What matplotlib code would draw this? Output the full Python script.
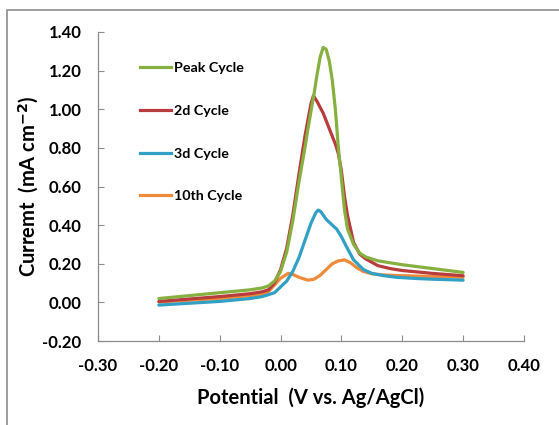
import numpy as np
import matplotlib
matplotlib.use("Agg")
import matplotlib.pyplot as plt
from matplotlib.patches import Rectangle
from matplotlib.lines import Line2D

plt.rcParams['font.family'] = ['Lato', 'DejaVu Sans']

# Peak Cycle
x_peak = [-0.20, -0.15, -0.10, -0.05, -0.03, -0.02, -0.01, 0.00, 0.01, 0.02, 0.03, 0.04,
          0.045, 0.05, 0.055, 0.06, 0.065, 0.07, 0.075, 0.08, 0.085, 0.09, 0.095, 0.10,
          0.105, 0.11, 0.12, 0.13, 0.14, 0.16, 0.18, 0.20, 0.25, 0.30]
y_peak = [0.02, 0.035, 0.05, 0.065, 0.075, 0.085, 0.11, 0.16, 0.26, 0.42, 0.62, 0.80,
          0.90, 0.99, 1.08, 1.18, 1.27, 1.32, 1.31, 1.25, 1.15, 1.00, 0.80, 0.64,
          0.48, 0.38, 0.30, 0.255, 0.235, 0.215, 0.205, 0.195, 0.175, 0.155]

# 2d Cycle
x_2d = [-0.20, -0.10, -0.05, -0.03, -0.02, -0.01, 0.00, 0.01, 0.02, 0.03, 0.04, 0.05,
        0.054, 0.06, 0.07, 0.08, 0.09, 0.095, 0.10, 0.105, 0.11, 0.115, 0.12, 0.13,
        0.14, 0.16, 0.18, 0.20, 0.25, 0.30]
y_2d = [0.005, 0.03, 0.045, 0.055, 0.065, 0.10, 0.17, 0.28, 0.45, 0.66, 0.86, 1.03,
        1.07, 1.04, 0.98, 0.90, 0.82, 0.77, 0.68, 0.55, 0.45, 0.38, 0.31, 0.25,
        0.225, 0.19, 0.175, 0.165, 0.15, 0.138]

# 3d Cycle
x_3d = [-0.20, -0.10, -0.05, -0.03, -0.01, 0.00, 0.01, 0.02, 0.03, 0.04, 0.05, 0.058,
        0.062, 0.066, 0.075, 0.085, 0.092, 0.10, 0.108, 0.12, 0.136, 0.15, 0.17, 0.19,
        0.22, 0.25, 0.30]
y_3d = [-0.014, 0.005, 0.02, 0.03, 0.05, 0.08, 0.11, 0.16, 0.23, 0.32, 0.41, 0.465,
        0.478, 0.47, 0.43, 0.40, 0.38, 0.34, 0.29, 0.22, 0.17, 0.15, 0.138, 0.13,
        0.124, 0.12, 0.115]

# 10th Cycle
x_10 = [-0.20, -0.10, -0.05, -0.03, -0.02, -0.01, 0.00, 0.0125, 0.02, 0.03, 0.045, 0.055,
        0.065, 0.075, 0.085, 0.095, 0.105, 0.115, 0.125, 0.136, 0.15, 0.17, 0.20, 0.25, 0.30]
y_10 = [0.002, 0.02, 0.035, 0.043, 0.055, 0.09, 0.125, 0.15, 0.145, 0.13, 0.115, 0.12,
        0.14, 0.17, 0.20, 0.215, 0.22, 0.205, 0.18, 0.16, 0.148, 0.142, 0.138, 0.134, 0.13]

labels = ['Peak Cycle', '2d Cycle', '3d Cycle', '10th Cycle']
colores = ['#86B040', '#B83C3C', '#31A0C4', '#EE8A3A']
xticks = [-0.30, -0.20, -0.10, 0.00, 0.10, 0.20, 0.30, 0.40]
yticks = [-0.20, 0.00, 0.20, 0.40, 0.60, 0.80, 1.00, 1.20, 1.40]

fig = plt.figure(figsize=(5.59, 4.25), dpi=100)
ax = fig.add_axes([98/559, 1-341/425, 426/559, 309/425])

series = [(x_peak, y_peak), (x_2d, y_2d), (x_3d, y_3d), (x_10, y_10)]
# dibujar en orden inverso para que la verde quede arriba
for (xs, ys), c in reversed(list(zip(series, colores))):
    ax.plot(xs, ys, color=c, lw=2.3, solid_capstyle='round')

ax.set_xlim(-0.30, 0.40)
ax.set_ylim(-0.20, 1.40)
ax.set_xticks(xticks)
ax.set_yticks(yticks)
ax.set_xticklabels(['%.2f' % v for v in xticks])
ax.set_yticklabels(['%.2f' % v for v in yticks])
for s in ['top', 'right']:
    ax.spines[s].set_visible(False)
for s in ['left', 'bottom']:
    ax.spines[s].set_color('#8c8c8c')
    ax.spines[s].set_linewidth(0.9)
ax.tick_params(direction='in', length=4, color='#8c8c8c', labelsize=12)
ax.tick_params(axis='x', pad=12)
ax.tick_params(axis='y', pad=12)
for t in ax.get_xticklabels() + ax.get_yticklabels():
    t.set_fontweight('bold')

ax.set_xlabel('Potential  (V vs. Ag/AgCl)', fontsize=14.5, fontweight='bold', labelpad=10)
ax.set_ylabel('Curremt  (mA cm$^{\\mathbf{-2}}$)', fontsize=14.5, fontweight='bold', labelpad=1)

# leyenda manual
handles = [Line2D([], [], color=c, lw=2.3) for c in colores]
leg = ax.legend(handles, labels, loc='upper left', bbox_to_anchor=(42/426, 1-30/309),
                frameon=False, borderpad=0, borderaxespad=0, handlelength=2.2,
                handletextpad=0.2, labelspacing=2.15, prop={'weight': 'bold', 'size': 10.3})

# marco gris de la imagen
fig.add_artist(Rectangle((7/559, -0.1), 1.2, 1.1 - 10/425, fill=False,
                         edgecolor='#8c8c8c', lw=1.2, transform=fig.transFigure))

fig.savefig('out.png', dpi=100)
